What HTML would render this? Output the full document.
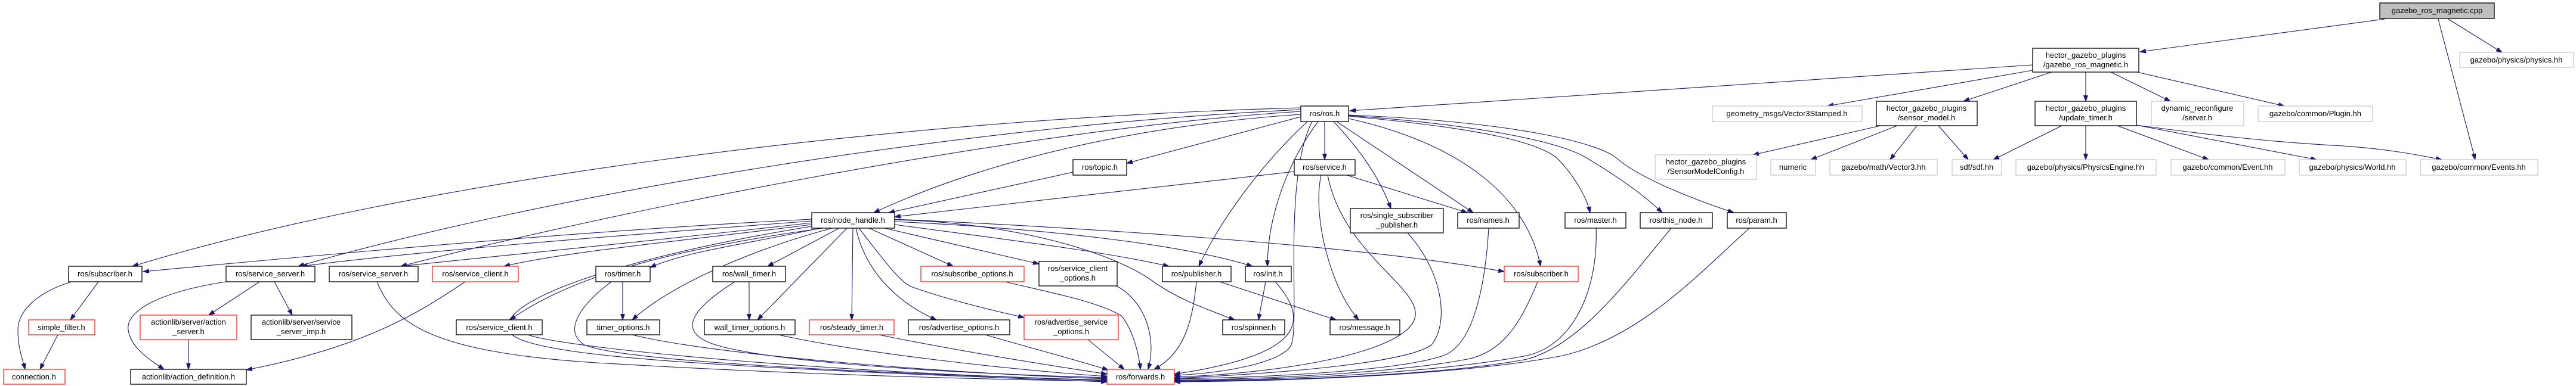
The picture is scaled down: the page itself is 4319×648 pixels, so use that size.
<!DOCTYPE html>
<html><head><meta charset="utf-8"><style>
html,body{margin:0;padding:0;background:#fff;overflow:hidden;}
svg{display:block;}
text{font-family:"Liberation Sans",sans-serif;font-size:13px;fill:#000;text-anchor:middle;}
.e{fill:none;stroke:#191970;stroke-width:1.1;marker-end:url(#a);}
.b{fill:#fff;stroke:#000;stroke-width:1.3;}
.r{fill:#fff;stroke:#ff0000;stroke-width:1.1;}
.g{fill:#fff;stroke:#bfbfbf;stroke-width:1.1;}
</style></head><body>
<svg width="4319" height="648" viewBox="0 0 4319 648" xmlns="http://www.w3.org/2000/svg">
<defs><marker id="a" markerUnits="userSpaceOnUse" markerWidth="11" markerHeight="8" refX="10" refY="3.5" orient="auto"><path d="M0,0 L10,3.5 L0,7 z" fill="#191970" stroke="#191970"/></marker></defs>
<g>
<path class="e" d="M3998 32 L3588 87"/>
<path class="e" d="M4105 32 L4195 88"/>
<path class="e" d="M4088 32 L4150 268"/>
<path class="e" d="M3408 109 C3000 133 2600 163 2263 186"/>
<path class="e" d="M3408 118 L3064 178"/>
<path class="e" d="M3440 121 L3292 170"/>
<path class="e" d="M3497 121 L3497 170"/>
<path class="e" d="M3539 121 L3639 170"/>
<path class="e" d="M3583 121 L3830 178"/>
<path class="e" d="M3153 211 L2939 260"/>
<path class="e" d="M3181 211 L3036 268"/>
<path class="e" d="M3214 211 L3169 268"/>
<path class="e" d="M3250 211 L3300 268"/>
<path class="e" d="M3457 211 L3342 268"/>
<path class="e" d="M3497 211 L3497 268"/>
<path class="e" d="M3550 211 L3703 268"/>
<path class="e" d="M3582 210 L3884 268"/>
<path class="e" d="M3582 210 C3700 226 3800 238 3929 245 C4000 250 4050 259 4094 268"/>
<path class="e" d="M2181 181 C1500 199 700 301 222 447"/>
<path class="e" d="M2181 184 C1600 211 900 331 500 447"/>
<path class="e" d="M2181 187 C1700 217 1000 362 672 447"/>
<path class="e" d="M2181 192 C1900 211 1650 271 1465 357"/>
<path class="e" d="M2181 196 L1889 274"/>
<path class="e" d="M2221 204 L2221 268"/>
<path class="e" d="M2192 204 C2120 271 2050 362 2010 447"/>
<path class="e" d="M2210 204 C2160 271 2125 362 2125 447"/>
<path class="e" d="M2236 204 C2270 241 2310 289 2332 350"/>
<path class="e" d="M2241 204 L2470 357"/>
<path class="e" d="M2261 199 C2450 241 2560 331 2583 447"/>
<path class="e" d="M2261 195 C2500 217 2580 241 2610 265 C2640 295 2660 331 2666 357"/>
<path class="e" d="M2261 194 C2500 211 2620 241 2660 265 C2720 301 2760 331 2787 357"/>
<path class="e" d="M2261 193 C2550 205 2680 241 2710 265 C2750 301 2850 338 2907 357"/>
<path class="e" d="M2200 204 C2150 301 2180 542 2165 579 C2150 609 2050 627 1969 630"/>
<path class="e" d="M1799 289 L1490 357"/>
<path class="e" d="M2170 288 L1500 364"/>
<path class="e" d="M2258 294 L2460 357"/>
<path class="e" d="M2215 294 C2200 362 2230 482 2278 537"/>
<path class="e" d="M2226 294 C2250 422 2380 482 2373 530 C2365 591 2150 627 1969 633"/>
<path class="e" d="M1361 368 C1000 386 600 422 240 456"/>
<path class="e" d="M1361 371 C1000 398 700 422 505 447"/>
<path class="e" d="M1361 374 C1100 404 850 428 672 447"/>
<path class="e" d="M1361 377 C1150 404 950 422 845 447"/>
<path class="e" d="M1375 383 C1250 410 1150 422 1090 449"/>
<path class="e" d="M1380 383 C1100 422 950 470 855 537"/>
<path class="e" d="M1395 383 C1250 422 1120 482 1060 537"/>
<path class="e" d="M1407 383 L1287 447"/>
<path class="e" d="M1420 383 L1270 537"/>
<path class="e" d="M1430 383 L1428 537"/>
<path class="e" d="M1435 383 C1450 452 1500 506 1570 537"/>
<path class="e" d="M1440 383 C1480 434 1510 476 1530 482 C1580 500 1650 518 1717 533"/>
<path class="e" d="M1457 383 L1598 447"/>
<path class="e" d="M1483 383 L1742 443"/>
<path class="e" d="M1500 377 C1700 404 1850 422 1960 447"/>
<path class="e" d="M1500 372 C1800 386 2000 416 2100 447"/>
<path class="e" d="M1500 369 C1700 374 1860 422 1930 470 C1970 500 2020 518 2070 537"/>
<path class="e" d="M1500 368 C1900 386 2300 416 2522 456"/>
<path class="e" d="M1361 380 C1100 422 900 482 860 530 C800 591 1000 609 1856 641"/>
<path class="e" d="M2122 473 L2110 537"/>
<path class="e" d="M2045 473 L2240 537"/>
<path class="e" d="M1044 473 L1044 537"/>
<path class="e" d="M1256 473 L1256 537"/>
<path class="e" d="M435 473 L350 529"/>
<path class="e" d="M460 473 L490 529"/>
<path class="e" d="M379 473 C280 488 210 518 215 554 C220 585 250 603 275 620"/>
<path class="e" d="M780 473 C720 512 630 579 413 621"/>
<path class="e" d="M316 570 L316 620"/>
<path class="e" d="M165 473 L118 537"/>
<path class="e" d="M120 473 C70 488 30 518 30 554 C30 585 38 603 42 620"/>
<path class="e" d="M97 562 L67 620"/>
<path class="e" d="M632 473 C660 542 720 591 1000 609 C1300 627 1600 636 1856 640"/>
<path class="e" d="M885 562 C950 585 1400 627 1856 638"/>
<path class="e" d="M1025 473 C980 506 940 554 980 579 C1050 609 1500 627 1856 639"/>
<path class="e" d="M1060 562 C1200 597 1600 627 1856 636"/>
<path class="e" d="M1232 473 C1180 506 1120 554 1200 579 C1300 609 1600 627 1856 634"/>
<path class="e" d="M1305 562 C1450 594 1700 621 1856 632"/>
<path class="e" d="M1474 562 C1600 588 1750 612 1856 628"/>
<path class="e" d="M1652 562 C1720 582 1800 603 1858 621"/>
<path class="e" d="M1824 570 L1885 620"/>
<path class="e" d="M1685 473 C1760 491 1840 506 1880 530 C1900 554 1910 597 1912 620"/>
<path class="e" d="M1872 480 C1920 506 1940 567 1925 620"/>
<path class="e" d="M2006 473 C2000 530 1990 591 1935 620"/>
<path class="e" d="M2138 473 C2200 542 2180 597 1969 628"/>
<path class="e" d="M2360 391 C2420 458 2430 542 2400 579 C2360 609 2150 627 1969 635"/>
<path class="e" d="M2496 383 C2490 482 2470 579 2420 597 C2350 621 2150 633 1969 636"/>
<path class="e" d="M2578 473 C2550 542 2520 591 2460 603 C2350 624 2150 636 1969 638"/>
<path class="e" d="M2676 383 C2680 482 2640 579 2560 597 C2400 627 2150 638 1969 639"/>
<path class="e" d="M2802 383 C2730 470 2650 579 2560 603 C2420 630 2150 639 1969 640"/>
<path class="e" d="M2933 383 C2850 458 2750 567 2620 597 C2450 630 2150 640 1969 641"/>
</g>
<g>
<rect x="3990" y="5" width="192" height="26" fill="#bfbfbf" stroke="#000" stroke-width="1.3"/><text x="4086" y="22">gazebo_ros_magnetic.cpp</text>
<rect class="b" x="3408" y="81" width="178" height="40"/><text x="3497" y="97">hector_gazebo_plugins</text><text x="3497" y="113">/gazebo_ros_magnetic.h</text>
<rect class="g" x="4124" y="88" width="191" height="25"/><text x="4219" y="105">gazebo/physics/physics.hh</text>
<rect class="b" x="2181" y="178" width="80" height="26"/><text x="2221" y="195">ros/ros.h</text>
<rect class="g" x="2871" y="178" width="251" height="26"/><text x="2996" y="195">geometry_msgs/Vector3Stamped.h</text>
<rect class="b" x="3146" y="170" width="169" height="41"/><text x="3230" y="186">hector_gazebo_plugins</text><text x="3230" y="202">/sensor_model.h</text>
<rect class="b" x="3412" y="170" width="170" height="41"/><text x="3497" y="186">hector_gazebo_plugins</text><text x="3497" y="202">/update_timer.h</text>
<rect class="g" x="3607" y="170" width="155" height="41"/><text x="3684" y="186">dynamic_reconfigure</text><text x="3684" y="202">/server.h</text>
<rect class="g" x="3786" y="178" width="192" height="26"/><text x="3882" y="195">gazebo/common/Plugin.hh</text>
<rect class="b" x="1799" y="268" width="90" height="26"/><text x="1844" y="285">ros/topic.h</text>
<rect class="b" x="2170" y="268" width="102" height="26"/><text x="2221" y="285">ros/service.h</text>
<rect class="g" x="2775" y="260" width="170" height="41"/><text x="2860" y="276">hector_gazebo_plugins</text><text x="2860" y="292">/SensorModelConfig.h</text>
<rect class="g" x="2969" y="268" width="75" height="26"/><text x="3006" y="285">numeric</text>
<rect class="g" x="3068" y="268" width="180" height="26"/><text x="3158" y="285">gazebo/math/Vector3.hh</text>
<rect class="g" x="3273" y="268" width="83" height="26"/><text x="3314" y="285">sdf/sdf.hh</text>
<rect class="g" x="3380" y="268" width="235" height="26"/><text x="3497" y="285">gazebo/physics/PhysicsEngine.hh</text>
<rect class="g" x="3640" y="268" width="191" height="26"/><text x="3735" y="285">gazebo/common/Event.hh</text>
<rect class="g" x="3855" y="268" width="179" height="26"/><text x="3944" y="285">gazebo/physics/World.hh</text>
<rect class="g" x="4058" y="268" width="197" height="26"/><text x="4156" y="285">gazebo/common/Events.hh</text>
<rect class="b" x="1361" y="357" width="139" height="26"/><text x="1430" y="374">ros/node_handle.h</text>
<rect class="b" x="2264" y="350" width="156" height="41"/><text x="2342" y="366">ros/single_subscriber</text><text x="2342" y="382">_publisher.h</text>
<rect class="b" x="2444" y="357" width="103" height="26"/><text x="2495" y="374">ros/names.h</text>
<rect class="b" x="2624" y="357" width="102" height="26"/><text x="2675" y="374">ros/master.h</text>
<rect class="b" x="2750" y="357" width="121" height="26"/><text x="2810" y="374">ros/this_node.h</text>
<rect class="b" x="2896" y="357" width="99" height="26"/><text x="2945" y="374">ros/param.h</text>
<rect class="b" x="115" y="447" width="123" height="26"/><text x="176" y="464">ros/subscriber.h</text>
<rect class="b" x="379" y="447" width="149" height="26"/><text x="453" y="464">ros/service_server.h</text>
<rect class="b" x="552" y="447" width="149" height="26"/><text x="626" y="464">ros/service_server.h</text>
<rect class="r" x="725" y="447" width="144" height="26"/><text x="797" y="464">ros/service_client.h</text>
<rect class="b" x="999" y="447" width="91" height="26"/><text x="1044" y="464">ros/timer.h</text>
<rect class="b" x="1195" y="447" width="122" height="26"/><text x="1256" y="464">ros/wall_timer.h</text>
<rect class="r" x="1544" y="447" width="173" height="26"/><text x="1630" y="464">ros/subscribe_options.h</text>
<rect class="b" x="1742" y="439" width="131" height="41"/><text x="1807" y="455">ros/service_client</text><text x="1807" y="471">_options.h</text>
<rect class="b" x="1949" y="447" width="115" height="26"/><text x="2006" y="464">ros/publisher.h</text>
<rect class="b" x="2088" y="447" width="77" height="26"/><text x="2126" y="464">ros/init.h</text>
<rect class="r" x="2522" y="447" width="124" height="26"/><text x="2584" y="464">ros/subscriber.h</text>
<rect class="r" x="48" y="537" width="111" height="25"/><text x="103" y="554">simple_filter.h</text>
<rect class="r" x="235" y="529" width="162" height="41"/><text x="316" y="545">actionlib/server/action</text><text x="316" y="561">_server.h</text>
<rect class="b" x="421" y="529" width="169" height="41"/><text x="505" y="545">actionlib/server/service</text><text x="505" y="561">_server_imp.h</text>
<rect class="b" x="765" y="537" width="144" height="25"/><text x="837" y="554">ros/service_client.h</text>
<rect class="b" x="984" y="537" width="122" height="25"/><text x="1045" y="554">timer_options.h</text>
<rect class="b" x="1181" y="537" width="152" height="25"/><text x="1257" y="554">wall_timer_options.h</text>
<rect class="r" x="1357" y="537" width="142" height="25"/><text x="1428" y="554">ros/steady_timer.h</text>
<rect class="b" x="1523" y="537" width="170" height="25"/><text x="1608" y="554">ros/advertise_options.h</text>
<rect class="r" x="1717" y="529" width="158" height="41"/><text x="1796" y="545">ros/advertise_service</text><text x="1796" y="561">_options.h</text>
<rect class="b" x="2050" y="537" width="104" height="25"/><text x="2102" y="554">ros/spinner.h</text>
<rect class="b" x="2230" y="537" width="117" height="25"/><text x="2288" y="554">ros/message.h</text>
<rect class="r" x="6" y="620" width="103" height="25"/><text x="57" y="637">connection.h</text>
<rect class="b" x="219" y="620" width="194" height="25"/><text x="316" y="637">actionlib/action_definition.h</text>
<rect class="r" x="1856" y="620" width="113" height="25"/><text x="1912" y="637">ros/forwards.h</text>
</g>
</svg>
</body></html>
